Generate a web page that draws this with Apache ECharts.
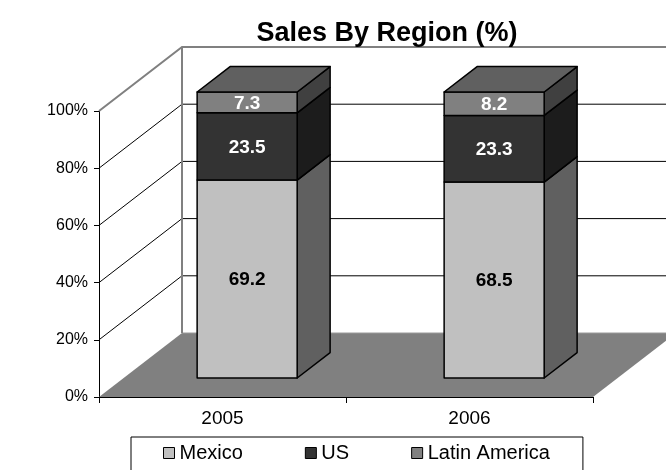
<!DOCTYPE html>
<html>
<head>
<meta charset="utf-8">
<script src="https://cdn.jsdelivr.net/npm/echarts@6/dist/echarts.min.js"></script>
<style>
  html, body { margin: 0; padding: 0; background: #fff; }
  #chart { width: 666px; height: 470px; }
</style>
</head>
<body>
<div id="chart"></div>
<script>
// Sales share per region, in percent of total
const years = ['2005', '2006'];
const mexico = [69.2, 68.5];
const us = [23.5, 23.3];
const latinAmerica = [7.3, 8.2];
const yTicks = [0, 20, 40, 60, 80, 100];

const FONT = '"Liberation Sans", Arial, sans-serif';

// Oblique projection used for the depth axis (pixels for full depth)
const DEPTH = { dx: 83, dy: -64 };
// Bars occupy this slice of the depth, and this share of each category band
const BAR_FRONT = 0.297;
const BAR_BACK = 0.694;
const BAR_FRACTION = 0.405;

const regionStyles = [
  { name: 'Mexico', front: '#C0C0C0', side: '#606060', top: '#A0A0A0', label: '#000000' },
  { name: 'US', front: '#333333', side: '#1C1C1C', top: '#262626', label: '#FFFFFF' },
  { name: 'Latin America', front: '#808080', side: '#404040', top: '#606060', label: '#FFFFFF' }
];
const regionValues = [mexico, us, latinAmerica];

// Build [category, low, high] rows so each segment sits on the one below it
function stackRows(seriesIndex) {
  return years.map(function (_, i) {
    let low = 0;
    for (let s = 0; s < seriesIndex; s++) low += regionValues[s][i];
    return [i, low, low + regionValues[seriesIndex][i]];
  });
}

function makeSegmentRenderer(seriesIndex) {
  const st = regionStyles[seriesIndex];
  const isTop = seriesIndex === regionValues.length - 1;
  return function (params, api) {
    const cat = api.value(0);
    const lo = api.value(1);
    const hi = api.value(2);
    const band = api.size([1, 0])[0];
    const w = band * BAR_FRACTION;
    const base = api.coord([cat, 0]);
    const fx = DEPTH.dx * BAR_FRONT;
    const fy = DEPTH.dy * BAR_FRONT;
    const ddx = DEPTH.dx * (BAR_BACK - BAR_FRONT);
    const ddy = DEPTH.dy * (BAR_BACK - BAR_FRONT);
    const left = base[0] + fx - w / 2;
    const right = left + w;
    const yLo = api.coord([cat, lo])[1] + fy;
    const yHi = api.coord([cat, hi])[1] + fy;
    const stroke = { stroke: '#000', lineWidth: 1.5, lineJoin: 'round' };
    const children = [
      {
        type: 'polygon',
        shape: { points: [[right, yHi], [right + ddx, yHi + ddy], [right + ddx, yLo + ddy], [right, yLo]] },
        style: Object.assign({ fill: st.side }, stroke)
      },
      {
        type: 'rect',
        shape: { x: left, y: yHi, width: w, height: yLo - yHi },
        style: Object.assign({ fill: st.front }, stroke)
      }
    ];
    if (isTop) {
      children.push({
        type: 'polygon',
        shape: { points: [[left, yHi], [left + ddx, yHi + ddy], [right + ddx, yHi + ddy], [right, yHi]] },
        style: Object.assign({ fill: st.top }, stroke)
      });
    }
    children.push({
      type: 'text',
      style: {
        x: (left + right) / 2,
        y: (yLo + yHi) / 2 + 1,
        text: String(regionValues[seriesIndex][cat]),
        fill: st.label,
        font: 'bold 19px ' + FONT,
        align: 'center',
        verticalAlign: 'middle'
      }
    });
    return { type: 'group', children: children };
  };
}

// Floor, side wall and back wall with their gridlines
function renderWalls(params, api) {
  const v = api.value(1);
  const cs = params.coordSys;
  const x0 = cs.x;
  const x1 = cs.x + cs.width;
  const y = api.coord([0, v])[1];
  const bx0 = x0 + DEPTH.dx;
  const bx1 = x1 + DEPTH.dx;
  const by = y + DEPTH.dy;
  const children = [];
  if (v === 0) {
    children.push({
      type: 'polygon',
      shape: { points: [[x0, y], [x1, y], [bx1, by], [bx0, by]] },
      style: { fill: '#808080' }
    });
    children.push({
      type: 'line',
      shape: { x1: bx0, y1: by, x2: bx1, y2: by },
      style: { stroke: '#9A9A9A', lineWidth: 1 }
    });
  } else if (v === 100) {
    const yBottom = api.coord([0, 0])[1] + DEPTH.dy;
    children.push({
      type: 'polyline',
      shape: { points: [[x0, y], [bx0, by], [bx1, by]] },
      style: { stroke: '#808080', lineWidth: 2, fill: null }
    });
    children.push({
      type: 'line',
      shape: { x1: bx0, y1: by, x2: bx0, y2: yBottom },
      style: { stroke: '#808080', lineWidth: 2 }
    });
  } else {
    children.push({
      type: 'polyline',
      shape: { points: [[x0, y], [bx0, by], [bx1, by]] },
      style: { stroke: '#000', lineWidth: 1, fill: null }
    });
  }
  return { type: 'group', children: children };
}

const chart = echarts.init(document.getElementById('chart'), null, { renderer: 'canvas' });

const series = [
  {
    name: 'walls',
    type: 'custom',
    silent: true,
    z: 1,
    renderItem: renderWalls,
    data: yTicks.map(function (t) { return [0, t]; })
  }
];
regionStyles.forEach(function (st, i) {
  series.push({
    name: st.name,
    type: 'custom',
    z: 3,
    itemStyle: { color: st.front },
    renderItem: makeSegmentRenderer(i),
    encode: { x: 0, y: [1, 2] },
    data: stackRows(i)
  });
});

chart.setOption({
  animation: false,
  backgroundColor: '#ffffff',
  textStyle: { fontFamily: FONT },
  title: {
    text: 'Sales By Region (%)',
    left: 382,
    textAlign: 'center',
    top: 15,
    textStyle: { fontFamily: FONT, fontWeight: 'bold', fontSize: 27, color: '#000' }
  },
  grid: { left: 99, right: 73, top: 111, bottom: 73, containLabel: false },
  xAxis: {
    type: 'category',
    data: years,
    axisLine: { lineStyle: { color: '#000', width: 1 } },
    axisTick: { show: true, length: 6, lineStyle: { color: '#000' } },
    axisLabel: { color: '#000', fontSize: 19, fontFamily: FONT, margin: 12 },
    splitLine: { show: false }
  },
  yAxis: {
    type: 'value',
    min: 0,
    max: 100,
    interval: 20,
    axisLine: { show: true, lineStyle: { color: '#000', width: 1 } },
    axisTick: { show: true, length: 5, lineStyle: { color: '#000' } },
    axisLabel: { color: '#000', fontSize: 16, fontFamily: FONT, margin: 11, formatter: '{value}%' },
    splitLine: { show: false }
  },
  legend: {
    data: regionStyles.map(function (s) { return s.name; }),
    left: 131,
    top: 437,
    orient: 'horizontal',
    icon: 'rect',
    itemWidth: 11,
    itemHeight: 11,
    itemGap: 62,
    padding: [6, 33, 12, 32],
    borderColor: '#000',
    borderWidth: 1,
    borderRadius: 0,
    itemStyle: { borderColor: '#000', borderWidth: 1 },
    textStyle: { color: '#000', fontSize: 20, fontFamily: FONT }
  },
  series: series
});
</script>
</body>
</html>
